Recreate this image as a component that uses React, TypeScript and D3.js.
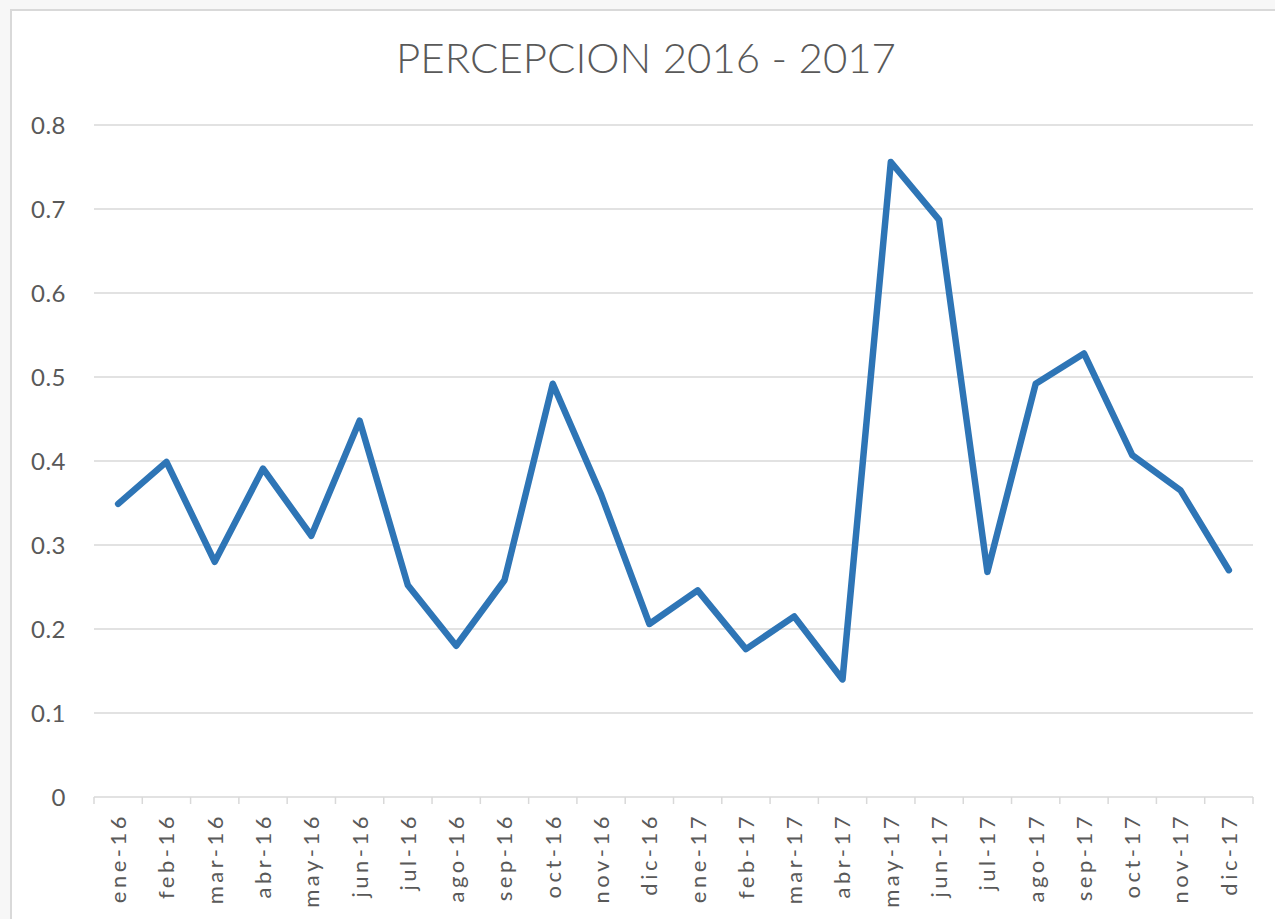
import React from "react";
import * as d3 from "d3";

const months: string[] = [
  "ene-16", "feb-16", "mar-16", "abr-16", "may-16", "jun-16",
  "jul-16", "ago-16", "sep-16", "oct-16", "nov-16", "dic-16",
  "ene-17", "feb-17", "mar-17", "abr-17", "may-17", "jun-17",
  "jul-17", "ago-17", "sep-17", "oct-17", "nov-17", "dic-17",
];

const percepcion: number[] = [
  0.349, 0.399, 0.280, 0.391, 0.311, 0.448,
  0.252, 0.180, 0.258, 0.492, 0.360, 0.206,
  0.246, 0.176, 0.215, 0.140, 0.756, 0.687,
  0.268, 0.492, 0.528, 0.407, 0.365, 0.270,
];

const yTicks: number[] = [0, 0.1, 0.2, 0.3, 0.4, 0.5, 0.6, 0.7, 0.8];

const title = "PERCEPCION 2016 - 2017";

const W = 1275;
const H = 919;
const margin = { left: 94, right: 22, top: 125, bottom: 122 };

export default function App() {
  const x = d3
    .scaleBand<string>()
    .domain(months)
    .range([margin.left, W - margin.right])
    .padding(0);
  const y = d3
    .scaleLinear()
    .domain([0, 0.8])
    .range([H - margin.bottom, margin.top]);

  const line = d3
    .line<number>()
    .x((_, i) => (x(months[i]) as number) + x.bandwidth() / 2)
    .y((d) => y(d));

  const textColor = "#595959";
  const gridColor = "#d9d9d9";
  const font = "Lato, 'Open Sans', sans-serif";
  const y0 = y(0);

  const tickXs = months.map((m) => x(m) as number).concat([x.range()[1]]);

  return (
    <svg
      width={W}
      height={H}
      style={{ position: "absolute", left: 0, top: 0 }}
      fontFamily={font}
    >
      <rect x={0} y={0} width={W} height={H} fill="#f7f7f7" />
      <rect x={11} y={10} width={W + 20} height={H + 20} fill="#ffffff" stroke={gridColor} strokeWidth={2} />

      <text
        x={646}
        y={73}
        textAnchor="middle"
        fontSize={42}
        fontWeight={300}
        fill={textColor}
      >
        {title}
      </text>

      {yTicks.map((t) => (
        <g key={t}>
          {t > 0 && (
            <line
              x1={margin.left}
              x2={W - margin.right}
              y1={y(t)}
              y2={y(t)}
              stroke={gridColor}
              strokeWidth={1.5}
            />
          )}
          <text
            x={66}
            y={y(t)}
            dy="0.36em"
            textAnchor="end"
            fontSize={24}
            letterSpacing={0.5}
            fill={textColor}
          >
            {t === 0 ? "0" : d3.format(".1f")(t)}
          </text>
        </g>
      ))}

      <line
        x1={margin.left}
        x2={W - margin.right}
        y1={y0}
        y2={y0}
        stroke={gridColor}
        strokeWidth={1.5}
      />
      {tickXs.map((tx, i) => (
        <line
          key={i}
          x1={tx}
          x2={tx}
          y1={y0}
          y2={y0 + 7}
          stroke={gridColor}
          strokeWidth={1.5}
        />
      ))}

      {months.map((m) => {
        const cx = (x(m) as number) + x.bandwidth() / 2;
        const ty = y0 + 16;
        return (
          <text
            key={m}
            transform={`translate(${cx},${ty}) rotate(-90)`}
            textAnchor="end"
            dy="0.36em"
            fontSize={22}
            letterSpacing={3.5}
            fill={textColor}
          >
            {m}
          </text>
        );
      })}

      <path
        d={line(percepcion) || ""}
        fill="none"
        stroke="#2E75B6"
        strokeWidth={6.5}
        strokeLinejoin="round"
        strokeLinecap="round"
      />
    </svg>
  );
}
